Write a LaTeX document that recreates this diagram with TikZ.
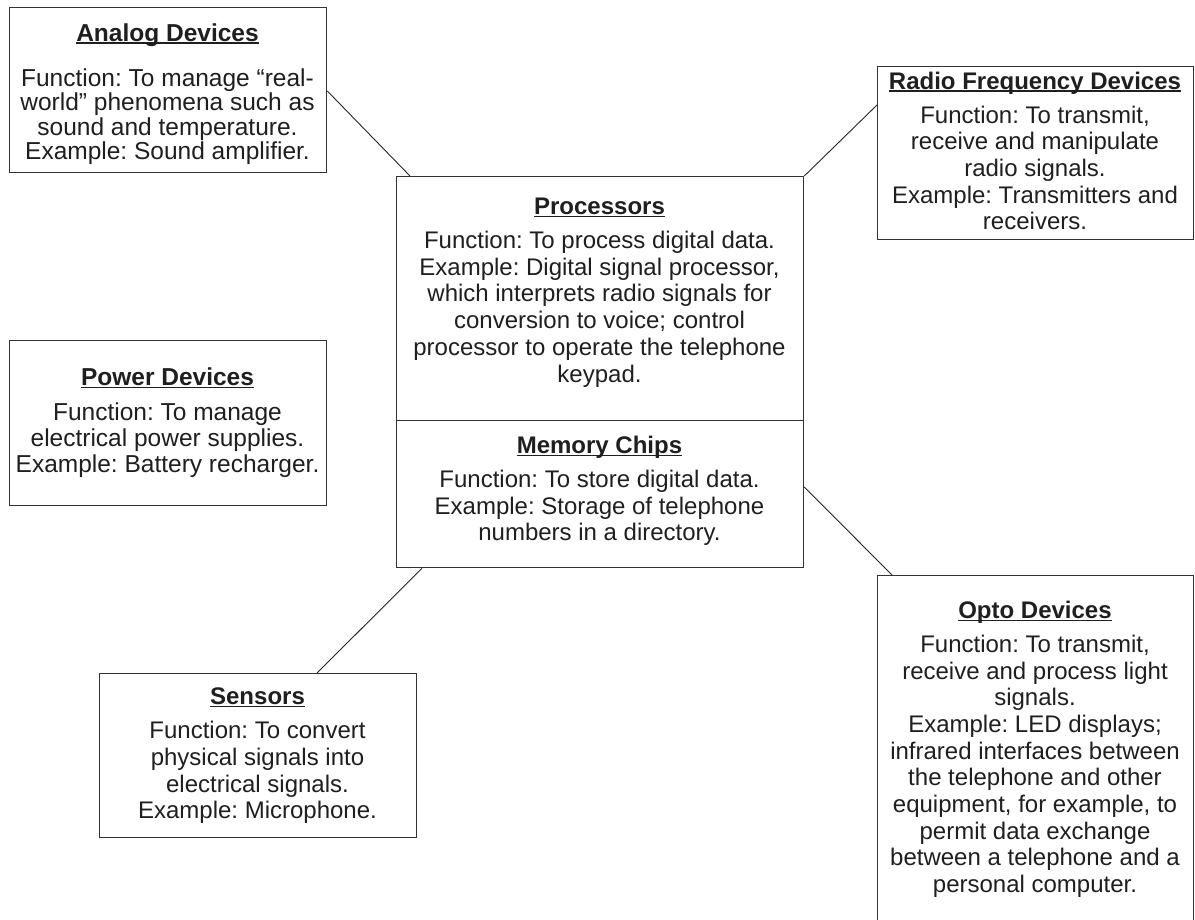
\documentclass[tikz,border=0pt]{standalone}
\usepackage{fontspec}
\setmainfont{Liberation Sans}
\usetikzlibrary{calc}
\frenchspacing
\newcommand{\mkttl}[1]{\setbox0\hbox{\bfseries #1}\rlap{\rule[-2.6pt]{\wd0}{1.4pt}}\box0}
\begin{document}
\begin{tikzpicture}[x=1pt,y=-1pt,
  boxnode/.style={draw=black!80, line width=1.3pt, rectangle, anchor=north west, inner sep=0pt},
  txt/.style={anchor=north, inner sep=0pt, align=center, text=black!88, execute at begin node=\frenchspacing},
  fA/.style={font=\fontsize{24.5pt}{24.5pt}\selectfont},
  fB/.style={font=\fontsize{24pt}{26.7pt}\selectfont},
  fP/.style={font=\fontsize{24.5pt}{26pt}\selectfont},
  link/.style={draw=black!85, line width=0.9pt}]
\useasboundingbox (0,0) rectangle (1195,920);
\clip (0,0) rectangle (1195,920);
\fill[white] (0,0) rectangle (1195,920);

% boxes
\node[boxnode, minimum width=317pt, minimum height=165pt] (analog) at (9,7) {};
\node[boxnode, minimum width=316pt, minimum height=173pt] (rf) at (877,66) {};
\node[boxnode, minimum width=407pt, minimum height=244pt] (proc) at (396,176) {};
\node[boxnode, minimum width=407pt, minimum height=147pt] (mem) at (396,420) {};
\node[boxnode, minimum width=317pt, minimum height=165pt] (power) at (9,340) {};
\node[boxnode, minimum width=317pt, minimum height=164pt] (sensor) at (99,673) {};
\node[boxnode, minimum width=316pt, minimum height=380pt] (opto) at (877,575) {};

% texts
\node[txt, fA] (analogtxt) at (167.5,23.2) {\mkttl{Analog Devices}\\[20.5pt]
Function: To manage “real-\\ world” phenomena such as\\ sound and temperature.\\ Example: Sound amplifier.};
\node[txt, fB] (rftxt) at (1035,71.5) {\mkttl{Radio Frequency Devices}\\[7.3pt]
Function: To transmit,\\ receive and manipulate\\ radio signals.\\ Example: Transmitters and\\ receivers.};
\node[txt, fB] (proctxt) at (599.5,197.8) {\mkttl{Processors}\\[7.3pt]
Function: To process digital data.\\ Example: Digital signal processor,\\ which interprets radio signals for\\ conversion to voice; control\\ processor to operate the telephone\\ keypad.};
\node[txt, fB] (memtxt) at (599.5,435.8) {\mkttl{Memory Chips}\\[7.3pt]
Function: To store digital data.\\ Example: Storage of telephone\\ numbers in a directory.};
\node[txt, fP] (powertxt) at (167.5,367.5) {\mkttl{Power Devices}\\[9pt]
Function: To manage\\ electrical power supplies.\\ Example: Battery recharger.};
\node[txt, fB] (sensortxt) at (257.5,687.8) {\mkttl{Sensors}\\[7.3pt]
Function: To convert\\ physical signals into\\ electrical signals.\\ Example: Microphone.};
\node[txt, fB] (optotxt) at (1035,600.8) {\mkttl{Opto Devices}\\[7.3pt]
Function: To transmit,\\ receive and process light\\ signals.\\ Example: LED displays;\\ infrared interfaces between\\ the telephone and other\\ equipment, for example, to\\ permit data exchange\\ between a telephone and a\\ personal computer.};

% connectors
\draw[link] ($(analog.north east)+(0,84)$) -- ($(proc.north west)+(14,0)$);
\draw[link] (proc.north east) -- ($(rf.north west)+(0,39)$);
\draw[link] ($(power.north east)+(0,85)$) -- ($(power.north east)+(0,85)$ -| proc.west);
\draw[link] ($(mem.north east)+(0,67)$) -- ($(opto.north west)+(15,0)$);
\draw[link] ($(mem.south west)+(26,0)$) -- ($(sensor.north west)+(218,0)$);
\end{tikzpicture}
\end{document}
